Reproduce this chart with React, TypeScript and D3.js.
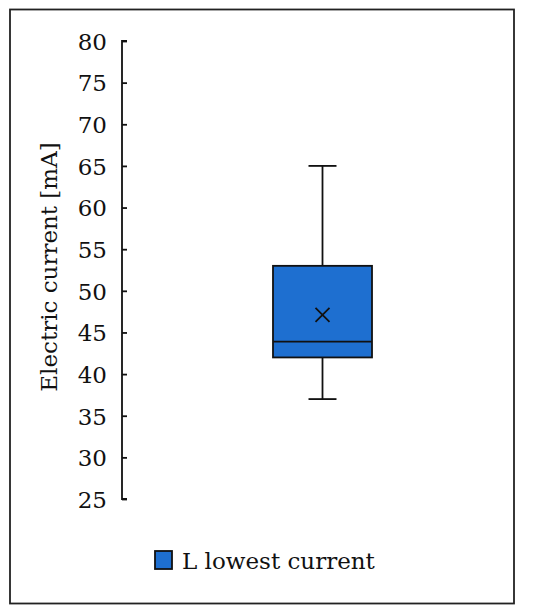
import React, { useEffect, useRef } from 'react';
import * as d3 from 'd3';

const seriesName = 'L lowest current';
const yTicks = [25, 30, 35, 40, 45, 50, 55, 60, 65, 70, 75, 80];
const boxStats = { min: 37, q1: 42, median: 43.9, q3: 53, max: 65, mean: 47.1 };
const categories = ['L'];

const W = 550;
const H = 613;
const FONT = '"DejaVu Serif", "Liberation Serif", serif';
const FS = 23;
const BLUE = '#1e6fd0';
const SW = 1.8;

export default function App() {
  const ref = useRef<SVGSVGElement>(null);

  useEffect(() => {
    const svg = d3.select(ref.current);
    svg.selectAll('*').remove();

    // outer frame
    svg.append('rect')
      .attr('x', 10).attr('y', 9.5)
      .attr('width', 504).attr('height', 594)
      .attr('fill', 'white').attr('stroke', '#222').attr('stroke-width', SW);

    const y = d3.scaleLinear().domain([25, 80]).range([499, 41]);
    const x = d3.scaleBand().domain(categories).range([122, 523])
      .paddingInner(0).paddingOuter(1.525);

    const axis = svg.append('g')
      .attr('transform', 'translate(122,0)')
      .call(d3.axisRight(y).tickValues(yTicks).tickSize(5).tickFormat(d3.format('d')));
    axis.select('.domain').attr('stroke', '#111').attr('stroke-width', SW)
      .attr('d', `M5,${y(80)}H0V${y(25)}H5`);
    axis.selectAll('.tick line').attr('stroke', '#111').attr('stroke-width', SW);
    axis.selectAll('.tick text')
      .attr('x', -15).attr('dy', '0.36em')
      .attr('text-anchor', 'end')
      .attr('font-family', FONT).attr('font-size', FS).attr('fill', '#111');

    svg.append('text')
      .attr('transform', `translate(57,${(y(25) + y(80)) / 2 - 3}) rotate(-90)`)
      .attr('text-anchor', 'middle')
      .attr('font-family', FONT).attr('font-size', FS).attr('fill', '#111')
      .text('Electric current [mA]');

    const s = boxStats;
    const x0 = x('L') as number;
    const bw = x.bandwidth();
    const cx = x0 + bw / 2;
    const g = svg.append('g').attr('stroke', '#111').attr('stroke-width', SW);

    g.append('line').attr('x1', cx).attr('x2', cx).attr('y1', y(s.max)).attr('y2', y(s.q3));
    g.append('line').attr('x1', cx).attr('x2', cx).attr('y1', y(s.q1)).attr('y2', y(s.min));
    g.append('line').attr('x1', cx - 14).attr('x2', cx + 14).attr('y1', y(s.max)).attr('y2', y(s.max));
    g.append('line').attr('x1', cx - 14).attr('x2', cx + 14).attr('y1', y(s.min)).attr('y2', y(s.min));
    g.append('rect')
      .attr('x', x0).attr('width', bw)
      .attr('y', y(s.q3)).attr('height', y(s.q1) - y(s.q3))
      .attr('fill', BLUE);
    g.append('line').attr('x1', x0).attr('x2', x0 + bw).attr('y1', y(s.median)).attr('y2', y(s.median));

    const my = y(s.mean);
    const m = 7;
    g.append('path')
      .attr('d', `M${cx - m},${my - m}L${cx + m},${my + m}M${cx - m},${my + m}L${cx + m},${my - m}`)
      .attr('fill', 'none');

    // legend
    svg.append('rect')
      .attr('x', 155).attr('y', 551).attr('width', 17).attr('height', 18)
      .attr('fill', BLUE).attr('stroke', '#111').attr('stroke-width', SW);
    svg.append('text')
      .attr('x', 182).attr('y', 569)
      .attr('font-family', FONT).attr('font-size', FS).attr('fill', '#111')
      .text(seriesName);
  }, []);

  return (
    <div style={{ position: 'absolute', left: 0, top: 0 }}>
      <svg ref={ref} width={W} height={H} style={{ display: 'block', background: 'white' }} />
    </div>
  );
}
